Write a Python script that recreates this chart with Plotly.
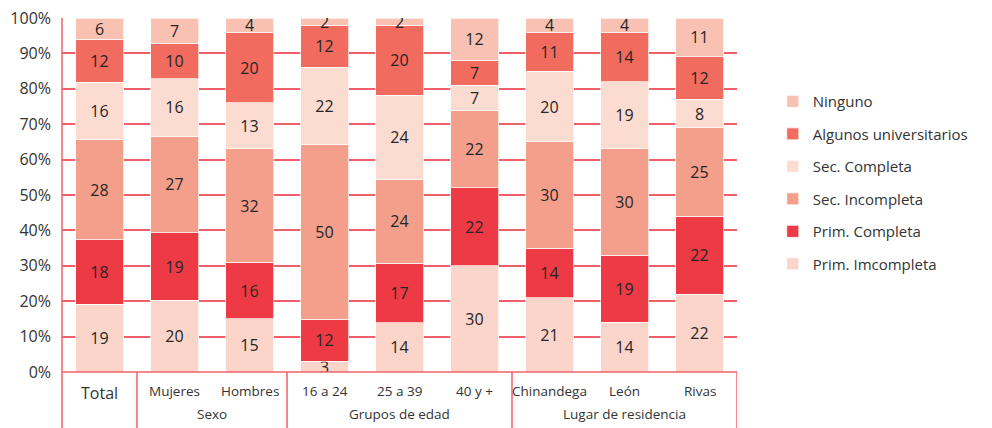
import plotly.graph_objects as go

categories = ["Total", "Mujeres", "Hombres", "16 a 24", "25 a 39", "40 y +",
              "Chinandega", "León", "Rivas"]
groups = [("", 0, 0), ("Sexo", 1, 2), ("Grupos de edad", 3, 5), ("Lugar de residencia", 6, 8)]

series_names = ["Prim. Imcompleta", "Prim. Completa", "Sec. Incompleta",
                "Sec. Completa", "Algunos universitarios", "Ninguno"]
prim_incompleta = [19, 20, 15, 3, 14, 30, 21, 14, 22]
prim_completa = [18, 19, 16, 12, 17, 22, 14, 19, 22]
sec_incompleta = [28, 27, 32, 50, 24, 22, 30, 30, 25]
sec_completa = [16, 16, 13, 22, 24, 7, 20, 19, 8]
algunos_univ = [12, 10, 20, 12, 20, 7, 11, 14, 12]
ninguno = [6, 7, 4, 2, 2, 12, 4, 4, 11]
series_values = [prim_incompleta, prim_completa, sec_incompleta,
                 sec_completa, algunos_univ, ninguno]
colors = ["#fcd5ca", "#ee3a44", "#f49f8b", "#fcdbd1", "#f26b5f", "#f9c1b1"]
y_ticks = [0, 10, 20, 30, 40, 50, 60, 70, 80, 90, 100]
y_ticktext = [f"{v}%" for v in y_ticks]

FONT = "Open Sans"
LINE = "#f0606a"

fig = go.Figure()
n = len(series_names)
for k, (name, vals, col) in enumerate(zip(series_names, series_values, colors)):
    fig.add_trace(go.Bar(
        x=categories, y=vals, name=name, legendgroup=name, legendrank=n - k,
        marker=dict(color=col, line=dict(color="rgba(255,255,255,0.7)", width=1)),
        text=[str(v) for v in vals], textposition="inside", textangle=0,
        insidetextanchor="middle", constraintext="none",
        textfont=dict(family=FONT, size=16, color="#262626"),
    ))

fig.update_layout(
    barmode="stack", barnorm="percent", bargap=0.36,
    width=984, height=420,
    margin=dict(l=54, r=255, t=10, b=56, autoexpand=False),
    paper_bgcolor="white", plot_bgcolor="white",
    font=dict(family=FONT, color="#333333"),
    uniformtext=dict(mode="show", minsize=16),
    legend=dict(
        x=1.053, y=0.535, xanchor="left", yanchor="middle",
        traceorder="grouped", tracegroupgap=10,
        font=dict(family=FONT, size=15, color="#333333"),
        itemwidth=30,
    ),
    showlegend=True,
)
fig.update_yaxes(
    range=[0, 100], tickvals=y_ticks, ticktext=y_ticktext,
    showgrid=True, gridcolor=LINE, gridwidth=1.5,
    zeroline=False, showline=False, ticks="",
    ticklabelstandoff=10, automargin=False, ticklabeloverflow="allow",
    tickfont=dict(family=FONT, size=16, color="#333333"),
)
fig.update_xaxes(
    type="category", categoryorder="array", categoryarray=categories,
    range=[-0.5, len(categories) - 0.5], automargin=False,
    showticklabels=False, showgrid=False, zeroline=False, showline=False, ticks="",
)

# table lines under the bars
fig.add_shape(type="line", xref="paper", yref="paper", x0=0, x1=1, y0=0, y1=0,
              line=dict(color=LINE, width=1.5))
fig.add_shape(type="line", xref="paper", yref="paper", x0=0, x1=0, y0=-0.2, y1=1,
              line=dict(color=LINE, width=1.5))
for gname, i0, i1 in groups:
    fig.add_shape(type="line", xref="x", yref="paper", x0=i1 + 0.5, x1=i1 + 0.5,
                  y0=-0.2, y1=0, line=dict(color=LINE, width=1.5))

# category labels
for i, c in enumerate(categories):
    if c == "Total":
        fig.add_annotation(x=c, xref="x", yref="paper", y=0, yshift=-21,
                           text=c, showarrow=False, yanchor="middle",
                           font=dict(family=FONT, size=16, color="#333333"))
    else:
        fig.add_annotation(x=c, xref="x", yref="paper", y=0, yshift=-19,
                           text=c, showarrow=False, yanchor="middle",
                           font=dict(family=FONT, size=13.5, color="#333333"))
for gname, i0, i1 in groups:
    if gname:
        fig.add_annotation(x=(i0 + i1) / 2, xref="x", yref="paper", y=0, yshift=-42,
                           text=gname, showarrow=False, yanchor="middle",
                           font=dict(family=FONT, size=13.5, color="#333333"))

fig.write_html("out.html")
